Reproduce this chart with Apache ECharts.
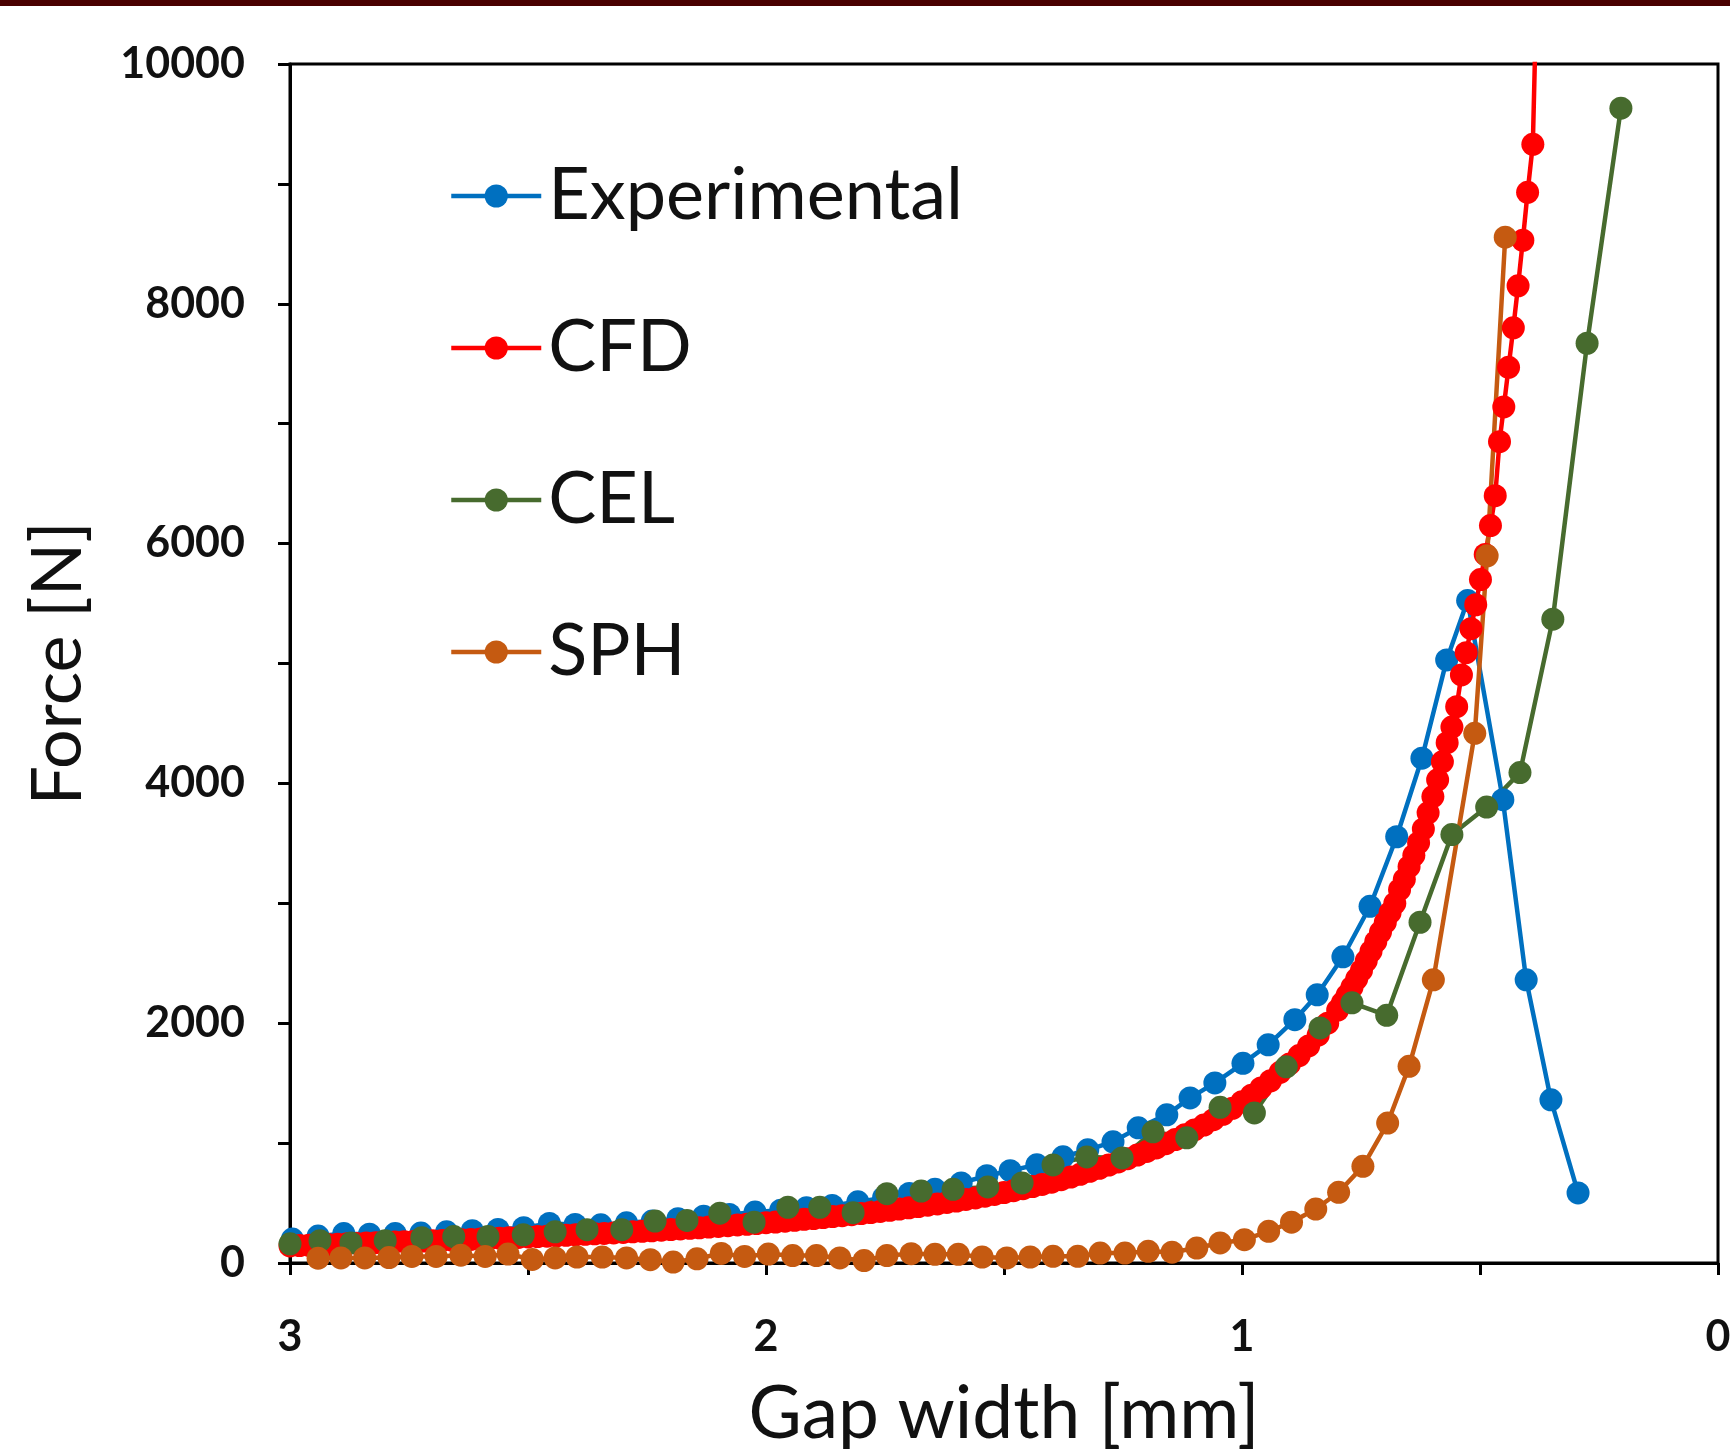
<!DOCTYPE html>
<html>
<head>
<meta charset="utf-8">
<script src="https://cdn.jsdelivr.net/npm/echarts@6/dist/echarts.min.js"></script>
<style>
  html, body { margin: 0; padding: 0; background: #ffffff; }
  #chart { width: 1730px; height: 1449px; }
</style>
</head>
<body>
<div id="chart"></div>
<script>
// ---------------- data ----------------
const seriesNames = ['Experimental', 'CFD', 'CEL', 'SPH'];
const xTicks = [0, 1, 2, 3];
const yTicks = [0, 2000, 4000, 6000, 8000, 10000];

const expGap = [0.294,0.351,0.403,0.452,0.526,0.570,0.622,0.675,0.731,0.788,0.842,0.889,0.945,0.998,1.057,1.109,1.158,1.218,1.271,1.324,1.376,1.431,1.487,1.536,1.590,1.645,1.699,1.753,1.807,1.861,1.915,1.969,2.023,2.077,2.131,2.185,2.239,2.293,2.347,2.401,2.455,2.509,2.563,2.617,2.671,2.725,2.779,2.833,2.887,2.941,2.995];
const expForce = [584,1361,2362,3864,5525,5030,4210,3555,2975,2554,2237,2029,1820,1665,1502,1377,1236,1127,1011,944,886,819,770,728,668,615,580,545,510,480,460,440,425,405,390,370,350,335,318,322,330,295,280,270,260,250,245,240,245,225,200];

const cfdGap = [0.380,0.389,0.400,0.410,0.420,0.430,0.440,0.450,0.459,0.468,0.478,0.489,0.499,0.509,0.519,0.529,0.539,0.549,0.559,0.569,0.579,0.589,0.599,0.609,0.619,0.629,0.639,0.649,0.659,0.669,0.679,0.689,0.699,0.709,0.719,0.729,0.739,0.749,0.759,0.769,0.779,0.789,0.799,
0.82,0.84,0.86,0.88,0.90,0.92,0.94,0.96,0.98,1.00,1.02,1.04,1.06,1.08,1.10,1.12,1.14,1.16,1.18,1.20,1.22,1.24,1.26,1.28,1.30,1.32,1.34,1.36,1.38,1.40,1.42,1.44,1.46,1.48,1.50,1.52,1.54,1.56,1.58,1.60,1.62,1.64,1.66,1.68,1.70,1.72,1.74,1.76,1.78,1.80,1.82,1.84,1.86,1.88,1.90,1.92,1.94,1.96,1.98,2.00,2.02,2.04,2.06,2.08,2.10,2.12,2.14,2.16,2.18,2.20,2.22,2.24,2.26,2.28,2.30,2.32,2.34,2.36,2.38,2.40,2.42,2.44,2.46,2.48,2.50,2.52,2.54,2.56,2.58,2.60,2.62,2.64,2.66,2.68,2.70,2.72,2.74,2.76,2.78,2.80,2.82,2.84,2.86,2.88,2.90,2.92,2.94,2.96,2.98,3.00];
const cfdForce = [10800,9330,8930,8530,8150,7800,7470,7140,6850,6400,6150,5910,5700,5490,5290,5090,4905,4640,4470,4340,4180,4030,3890,3755,3620,3505,3400,3305,3200,3114,3000,2922,2840,2760,2680,2600,2520,2440,2370,2300,2235,2170,2110,
2000,1900,1810,1730,1660,1590,1520,1460,1400,1345,1290,1240,1195,1150,1110,1070,1030,995,960,930,900,870,843,817,790,765,740,717,695,674,655,637,620,603,587,572,557,543,530,517,505,493,482,471,460,450,440,430,421,412,403,395,387,379,371,364,356,349,342,336,329,323,317,311,305,300,294,289,284,279,274,269,264,260,255,251,247,243,239,235,231,227,224,220,217,213,210,207,203,200,197,194,191,188,186,183,180,178,175,172,169,166,163,160,157,154,151,148,145,142];

const celGap = [3.000,2.937,2.872,2.800,2.723,2.656,2.584,2.510,2.443,2.376,2.303,2.233,2.166,2.097,2.025,1.954,1.887,1.817,1.746,1.674,1.607,1.534,1.462,1.397,1.326,1.252,1.187,1.116,1.046,0.974,0.907,0.836,0.769,0.696,0.626,0.559,0.486,0.416,0.347,0.275,0.204];
const celForce = [160,186,167,186,211,220,220,235,260,278,278,350,355,415,340,465,465,420,578,600,615,634,668,818,885,876,1094,1044,1298,1252,1636,1961,2170,2066,2842,3573,3803,4090,5370,7671,9631];

const sphGap = [2.941,2.893,2.843,2.792,2.744,2.693,2.641,2.590,2.542,2.491,2.443,2.397,2.344,2.293,2.243,2.195,2.145,2.094,2.045,1.995,1.944,1.894,1.845,1.794,1.746,1.695,1.645,1.596,1.546,1.494,1.445,1.397,1.345,1.298,1.246,1.197,1.147,1.095,1.046,0.995,0.944,0.896,0.845,0.797,0.746,0.694,0.649,0.598,0.511,0.485,0.447];
const sphForce = [40,42,42,45,55,55,65,55,75,30,42,50,50,42,28,8,35,80,55,75,62,62,42,20,62,78,72,72,50,42,50,56,56,83,83,97,90,125,167,194,264,340,450,590,806,1167,1640,2362,4418,5898,8556];

const seriesColors = ['#0070C0', '#FF0000', '#476B2E', '#C55A11'];

// ---------------- chart ----------------
const zip = (xs, ys) => xs.map((x, i) => [x, ys[i]]);
const seriesData = [zip(expGap, expForce), zip(cfdGap, cfdForce), zip(celGap, celForce), zip(sphGap, sphForce)];

const FONT = 'Lato';
const chart = echarts.init(document.getElementById('chart'), null, { renderer: 'canvas' });

chart.setOption({
  animation: false,
  backgroundColor: '#ffffff',
  graphic: [{
    type: 'rect', left: 0, top: 0, silent: true,
    shape: { x: 0, y: 0, width: 1730, height: 6 },
    style: { fill: '#4A0000' }
  }],
  grid: {
    left: 290, right: 12, top: 64, bottom: 186,
    outerBoundsMode: 'none',
    containLabel: false,
    show: true, borderColor: '#000', borderWidth: 3, backgroundColor: 'transparent'
  },
  legend: {
    orient: 'vertical',
    left: 444, top: 151,
    itemWidth: 90, itemHeight: 29,
    itemGap: 72,
    data: seriesNames,
    lineStyle: { width: 4.5 },
    textStyle: { fontFamily: FONT, fontSize: 72, color: '#111', lineHeight: 80, padding: [0, 0, 0, 2] }
  },
  xAxis: {
    type: 'value', min: 0, max: 3, interval: 1, inverse: true,
    name: 'Gap width [mm]', nameLocation: 'middle', nameGap: 115,
    nameTextStyle: { fontFamily: FONT, fontSize: 73, color: '#111' },
    axisLine: { show: true, onZero: false, lineStyle: { color: '#000', width: 3 } },
    axisTick: { show: true, inside: false, length: 12, lineStyle: { color: '#000', width: 3 } },
    minorTick: { show: true, splitNumber: 2, length: 12, lineStyle: { color: '#000', width: 3 } },
    splitLine: { show: false },
    axisLabel: { margin: 53, fontFamily: FONT, fontWeight: 'bold', fontSize: 43, color: '#111',
      formatter: v => (xTicks.indexOf(v) >= 0 ? String(v) : '') }
  },
  yAxis: {
    type: 'value', min: 0, max: 10000, interval: 2000,
    name: 'Force [N]', nameLocation: 'middle', nameGap: 197, nameRotate: 90,
    nameTextStyle: { fontFamily: FONT, fontSize: 70, color: '#111' },
    axisLine: { show: true, onZero: false, lineStyle: { color: '#000', width: 3 } },
    axisTick: { show: true, inside: false, length: 12, lineStyle: { color: '#000', width: 3 } },
    minorTick: { show: true, splitNumber: 2, length: 12, lineStyle: { color: '#000', width: 3 } },
    splitLine: { show: false },
    axisLabel: { margin: 45, fontFamily: FONT, fontWeight: 'bold', fontSize: 43, color: '#111',
      formatter: v => (yTicks.indexOf(v) >= 0 ? String(v) : '') }
  },
  series: seriesNames.map((name, i) => ({
    name: name,
    type: 'line',
    data: seriesData[i],
    symbol: 'circle',
    symbolSize: 23,
    showAllSymbol: true,
    clip: true,
    color: seriesColors[i],
    lineStyle: { color: seriesColors[i], width: 4.5 },
    itemStyle: { color: seriesColors[i] },
    emphasis: { disabled: true }
  }))
});
</script>
</body>
</html>
